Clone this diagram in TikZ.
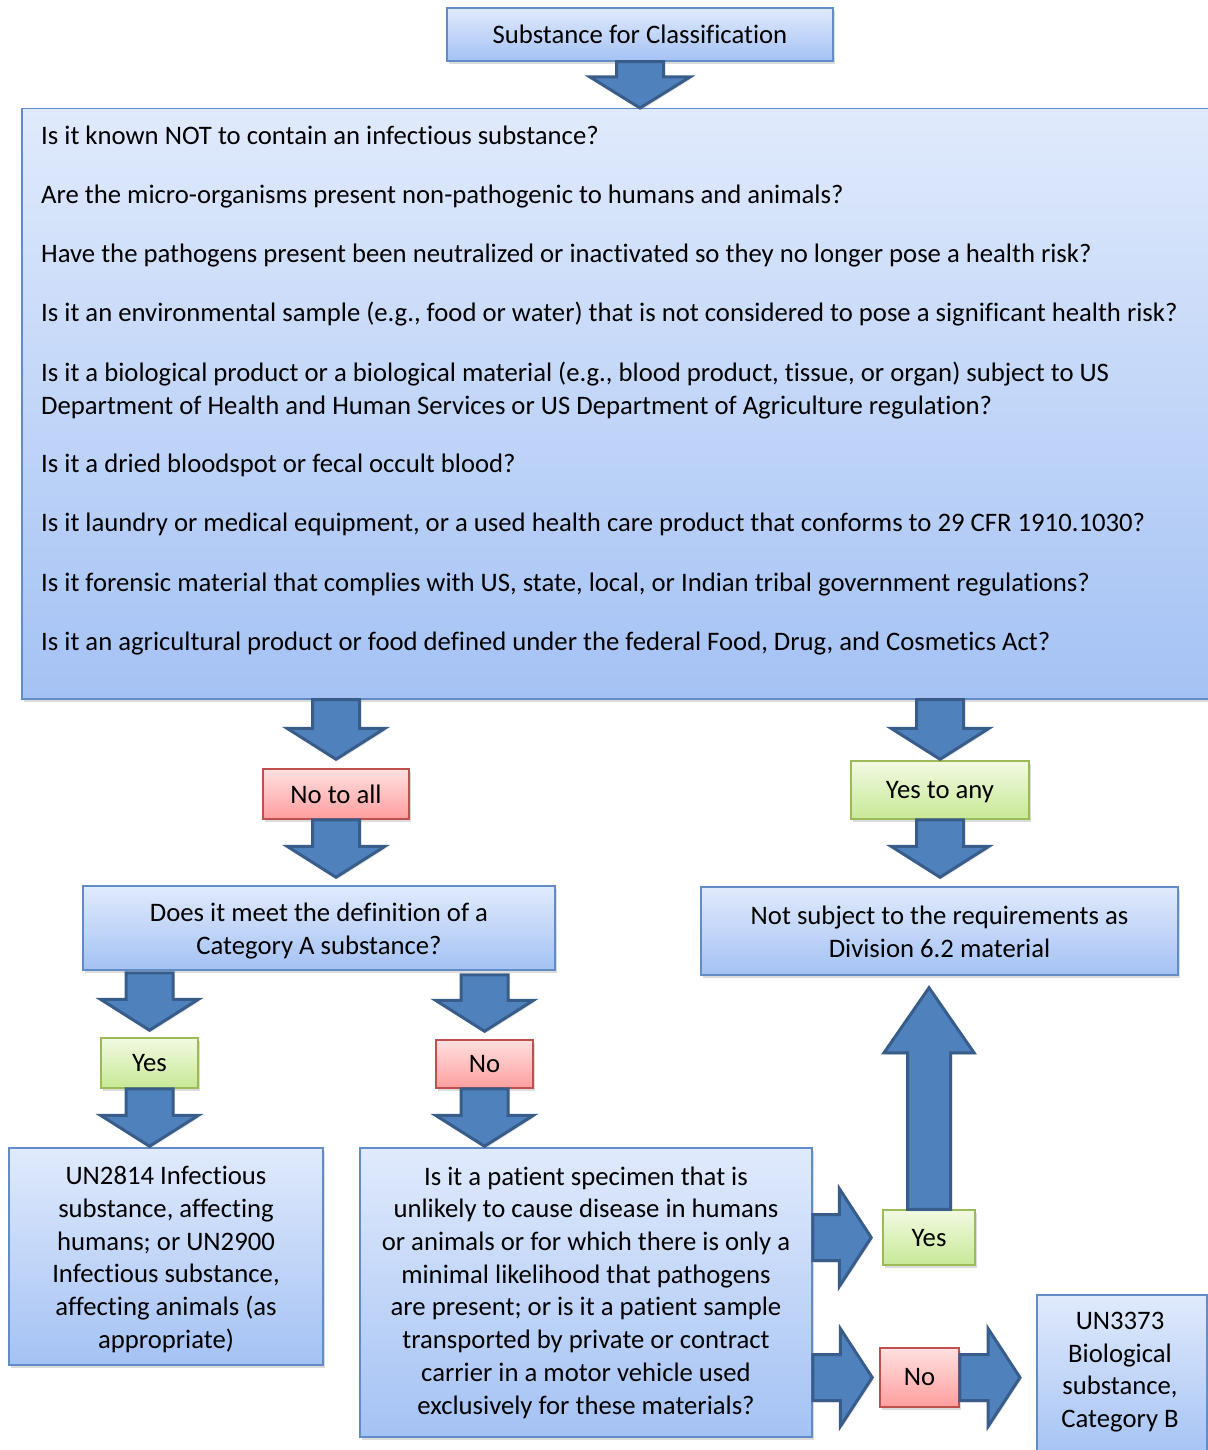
\documentclass[tikz,border=0pt]{standalone}
\usepackage{fontspec}
\setmainfont{Carlito}[Ligatures=NoCommon]
\usetikzlibrary{calc,shadows}
\definecolor{bluetop}{RGB}{224,234,252}
\definecolor{bluebot}{RGB}{164,194,244}
\definecolor{blueline}{RGB}{98,140,198}
\definecolor{redtop}{RGB}{255,224,224}
\definecolor{redbot}{RGB}{255,158,158}
\definecolor{redline}{RGB}{192,80,77}
\definecolor{greentop}{RGB}{242,250,226}
\definecolor{greenbot}{RGB}{200,232,150}
\definecolor{greenline}{RGB}{155,187,89}
\definecolor{arrowfill}{RGB}{79,129,189}
\definecolor{arrowline}{RGB}{56,93,138}
\tikzset{
  box/.style={draw, line width=1.5pt, inner sep=0pt, align=center,
    font=\fontsize{26.7}{32.7}\selectfont,
    drop shadow={opacity=0.28, shadow xshift=2pt, shadow yshift=-3pt}},
  bluebox/.style={box, draw=blueline, top color=bluetop, bottom color=bluebot},
  redbox/.style={box, draw=redline, top color=redtop, bottom color=redbot},
  greenbox/.style={box, draw=greenline, top color=greentop, bottom color=greenbot},
  lowtext/.style={text height=23pt, text depth=5.3pt},
  blockarrow/.style={fill=arrowfill, draw=arrowline, line width=3pt, line join=miter,
    drop shadow={opacity=0.2, shadow xshift=1.5pt, shadow yshift=-2pt}},
  qtext/.style={inner sep=0pt, align=left, anchor=north west,
    font=\fontsize{26.7}{33}\selectfont},
  plaintext/.style={inner sep=0pt, align=center, font=\fontsize{26.7}{32.7}\selectfont}
}
% start, end, shaft half width, head half width, head length
\newcommand\barrow[5]{%
  \path (#1) coordinate (ba-s) (#2) coordinate (ba-e);
  \path ($(ba-e)!#5!(ba-s)$) coordinate (ba-c);
  \draw[blockarrow] ($(ba-s)!#3!90:(ba-e)$) -- ($(ba-c)!#3!90:(ba-e)$)
    -- ($(ba-c)!#4!90:(ba-e)$) -- (ba-e) -- ($(ba-c)!#4!-90:(ba-e)$)
    -- ($(ba-c)!#3!-90:(ba-e)$) -- ($(ba-s)!#3!-90:(ba-e)$) -- cycle;
}
\begin{document}
\begin{tikzpicture}[x=1pt,y=-1pt]
\useasboundingbox (0,0) rectangle (1207,1450);

\node[bluebox, minimum width=386pt, minimum height=53pt] (top) at (640,34.5) {Substance for Classification};
\node[bluebox, minimum width=1191pt, minimum height=590pt, anchor=north west] (big) at (21,108) {};
\node[qtext] (qs) at (41,121) {\strut Is it known NOT to contain an infectious substance?\\[26.2pt]
Are the micro-organisms present non-pathogenic to humans and animals?\\[26.2pt]
Have the pathogens present been neutralized or inactivated so they no longer pose a health risk?\\[26.2pt]
Is it an environmental sample (e.g., food or water) that is not considered to pose a significant health risk?\\[26.2pt]
Is it a biological product or a biological material (e.g., blood product, tissue, or organ) subject to US\\
Department of Health and Human Services or US Department of Agriculture regulation?\\[25.5pt]
Is it a dried bloodspot or fecal occult blood?\\[26.2pt]
Is it laundry or medical equipment, or a used health care product that conforms to 29 CFR 1910.1030?\\[26.2pt]
Is it forensic material that complies with US, state, local, or Indian tribal government regulations?\\[26.2pt]
Is it an agricultural product or food defined under the federal Food, Drug, and Cosmetics Act?};

\node[redbox, minimum width=146pt, minimum height=50pt] (nota) at (336,794) {No to all};
\node[greenbox, lowtext, minimum width=178pt, minimum height=58pt] (yesany) at (940,790) {Yes to any};
\node[bluebox, minimum width=472pt, minimum height=84pt] (catA) at (319,928) {};
\node[plaintext] (catAt) at (319,931) {Does it meet the definition of a\\Category A substance?};
\node[bluebox, minimum width=477pt, minimum height=88pt] (notsub) at (939.5,931) {};
\node[plaintext] (notsubt) at (939.5,932) {Not subject to the requirements as\\Division 6.2 material};
\node[greenbox, minimum width=97pt, minimum height=50pt] (yes1) at (149.5,1063) {Yes};
\node[redbox, minimum width=97pt, minimum height=48pt] (no1) at (484.5,1064) {No};
\node[bluebox, minimum width=314pt, minimum height=217pt] (un2814) at (166,1256.5) {};
\node[plaintext] (un2814t) at (166,1259.5) {UN2814 Infectious\\substance, affecting\\humans; or UN2900\\Infectious substance,\\affecting animals (as\\appropriate)};
\node[bluebox, minimum width=452pt, minimum height=289pt] (patient) at (586,1292.5) {};
\node[plaintext] (patientt) at (586,1292.5) {Is it a patient specimen that is\\unlikely to cause disease in humans\\or animals or for which there is only a\\minimal likelihood that pathogens\\are present; or is it a patient sample\\transported by private or contract\\carrier in a motor vehicle used\\exclusively for these materials?};
\node[greenbox, lowtext, minimum width=92pt, minimum height=55pt] (yes2) at (929,1237.5) {Yes};
\node[redbox, minimum width=79pt, minimum height=59pt] (no2) at (919.5,1377.5) {No};
\node[bluebox, minimum width=170pt, minimum height=166pt, anchor=north west] (un3373) at (1036,1294) {};
\node[plaintext] (un3373t) at (1120,1372) {UN3373\\Biological\\substance,\\Category B};

\barrow{top.south}{top.south |- big.north}{23.5pt}{50pt}{31pt}
\barrow{nota.north |- big.south}{[yshift=9pt]nota.north}{23.5pt}{49pt}{31pt}
\barrow{nota.south}{[yshift=8pt]nota.south |- catA.north}{23.5pt}{49pt}{31pt}
\barrow{yesany.north |- big.south}{[yshift=1pt]yesany.north}{23.5pt}{49pt}{31pt}
\barrow{yesany.south}{[yshift=9pt]yesany.south |- notsub.north}{23.5pt}{49pt}{31pt}
\barrow{[yshift=-2pt]yes1.north |- catA.south}{[yshift=7pt]yes1.north}{23.5pt}{49pt}{31pt}
\barrow{yes1.south}{[yshift=1pt]yes1.south |- un2814.north}{23.5pt}{49pt}{31pt}
\barrow{[yshift=-4pt]no1.north |- catA.south}{[yshift=8pt]no1.north}{23.5pt}{49pt}{31pt}
\barrow{no1.south}{[yshift=1pt]no1.south |- patient.north}{23.5pt}{49pt}{31pt}
\barrow{patient.east |- yes2.west}{[xshift=-11pt]yes2.west}{23pt}{49pt}{32pt}
\barrow{patient.east |- no2.west}{[xshift=-7pt]no2.west}{23pt}{49pt}{32pt}
\barrow{no2.east}{[xshift=-16pt]no2.east -| un3373.west}{23pt}{49pt}{32pt}
\barrow{yes2.north}{[yshift=-12pt]yes2.north |- notsub.south}{21.5pt}{45pt}{65pt}
\end{tikzpicture}
\end{document}
